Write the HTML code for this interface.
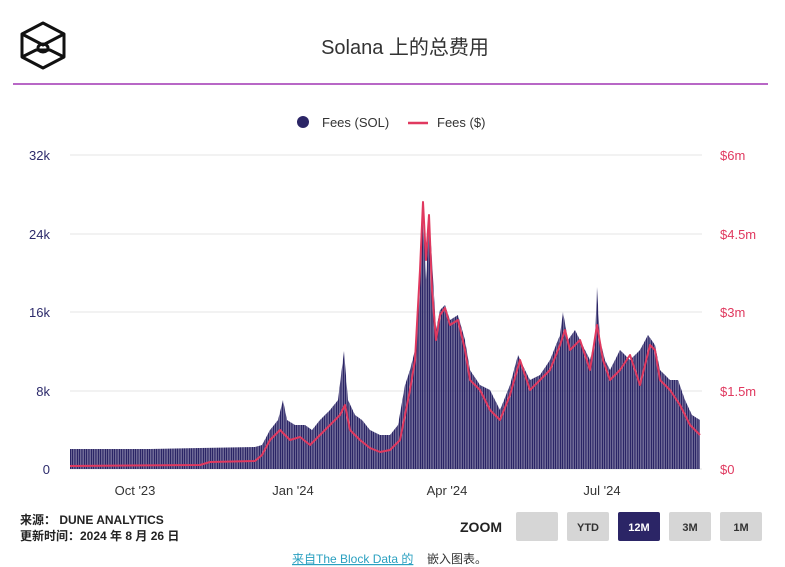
<!DOCTYPE html>
<html><head><meta charset="utf-8"><style>
body{margin:0;background:#fff;width:785px;height:567px;overflow:hidden;font-family:"Liberation Sans","Noto Sans CJK SC",sans-serif;}
</style></head><body>
<svg width="785" height="567" xmlns="http://www.w3.org/2000/svg" style="position:absolute;left:0;top:0">
<defs>
<pattern id="bars" width="1.75" height="10" patternUnits="userSpaceOnUse"><rect x="0" y="0" width="1.45" height="10" fill="#2b2566"/></pattern>
</defs>
<!-- logo -->
<g fill="none" stroke="#111" stroke-width="3" stroke-linejoin="round">
<polygon points="43,23 64,34 64,57 43,68 22,57 22,34"/>
<polyline points="22,34 43,45 64,34"/>
<polyline points="22,57 36,50 50,50 64,57"/>
<ellipse cx="43" cy="48" rx="5" ry="4"/>
</g>
<text x="405" y="54" text-anchor="middle" font-size="20" fill="#333">Solana 上的总费用</text>
<line x1="13" y1="84" x2="768" y2="84" stroke="#b867c6" stroke-width="2"/>
<!-- legend -->
<circle cx="303" cy="122" r="6" fill="#2b2566"/>
<text x="322" y="127" font-size="13" fill="#333">Fees (SOL)</text>
<line x1="408" y1="123" x2="428" y2="123" stroke="#e0395f" stroke-width="2.5"/>
<text x="437" y="127" font-size="13" fill="#333">Fees ($)</text>
<!-- grid -->
<g stroke="#e4e4e4" stroke-width="1">
<line x1="70" y1="155" x2="702" y2="155"/><line x1="70" y1="234" x2="702" y2="234"/>
<line x1="70" y1="312" x2="702" y2="312"/><line x1="70" y1="391" x2="702" y2="391"/>
<line x1="70" y1="469" x2="702" y2="469"/>
</g>
<g font-size="13" fill="#2c2a6b" text-anchor="end">
<text x="50" y="160">32k</text><text x="50" y="239">24k</text><text x="50" y="317">16k</text><text x="50" y="396">8k</text><text x="50" y="474">0</text>
</g>
<g font-size="13" fill="#e0395f">
<text x="720" y="160">$6m</text><text x="720" y="239">$4.5m</text><text x="720" y="317">$3m</text><text x="720" y="396">$1.5m</text><text x="720" y="474">$0</text>
</g>
<g font-size="13" fill="#333" text-anchor="middle">
<text x="135" y="495">Oct '23</text><text x="293" y="495">Jan '24</text><text x="447" y="495">Apr '24</text><text x="602" y="495">Jul '24</text>
</g>
<!-- bars -->
<polygon fill="url(#bars)" points="70,469 70,449 150,449 200,448 255,447 262,445 270,430 278,420 283,400 287,420 295,425 305,425 312,430 320,420 330,410 338,400 344,351 348,400 355,415 362,420 370,430 380,435 390,435 398,425 405,385 410,370 415,350 420,270 423,200 426,280 429,215 432,260 436,330 440,310 445,305 450,320 458,315 465,340 470,370 480,385 490,390 500,410 510,385 518,355 525,370 530,380 540,375 550,360 560,335 563,312 568,340 575,330 580,340 590,360 595,340 597,287 600,340 605,360 610,370 620,350 630,360 640,350 648,335 655,345 660,370 670,380 678,380 685,400 692,415 700,420 700,469"/>
<!-- line -->
<polyline fill="none" stroke="#e0395f" stroke-width="2" stroke-linejoin="round" points="70,466 200,465 210,462 255,461 262,455 270,440 280,430 290,440 300,437 310,445 320,435 330,425 340,415 345,405 350,430 360,440 370,448 380,452 390,450 400,440 410,390 415,360 420,270 423,202 426,260 429,215 432,290 436,340 440,315 445,308 450,325 458,320 465,350 470,380 480,390 490,410 500,420 510,395 520,360 530,390 540,380 550,370 560,345 565,330 570,350 580,340 590,370 597,325 603,360 610,380 620,370 630,355 640,385 650,345 655,350 660,380 670,390 680,405 690,425 700,435"/>
<!-- footer -->
<text x="20" y="524" font-size="12" fill="#222" font-weight="bold">来源：  DUNE ANALYTICS</text>
<text x="20" y="540" font-size="12" fill="#222" font-weight="bold">更新时间：2024 年 8 月 26 日</text>
<text x="460" y="532" font-size="14" fill="#222" font-weight="bold">ZOOM</text>
<g font-size="11" text-anchor="middle" font-weight="bold">
<rect x="516" y="512" width="42" height="29" rx="2" fill="#d6d6d6"/>
<rect x="567" y="512" width="42" height="29" rx="2" fill="#d6d6d6"/><text x="588" y="531" fill="#333">YTD</text>
<rect x="618" y="512" width="42" height="29" rx="2" fill="#2b2566"/><text x="639" y="531" fill="#fff">12M</text>
<rect x="669" y="512" width="42" height="29" rx="2" fill="#d6d6d6"/><text x="690" y="531" fill="#333">3M</text>
<rect x="720" y="512" width="42" height="29" rx="2" fill="#d6d6d6"/><text x="741" y="531" fill="#333">1M</text>
</g>
<text x="292" y="563" font-size="12" fill="#2aa0c0" text-decoration="underline">来自The Block Data 的</text>
<text x="427" y="563" font-size="12" fill="#333">嵌入图表。</text>
</svg>
</body></html>
